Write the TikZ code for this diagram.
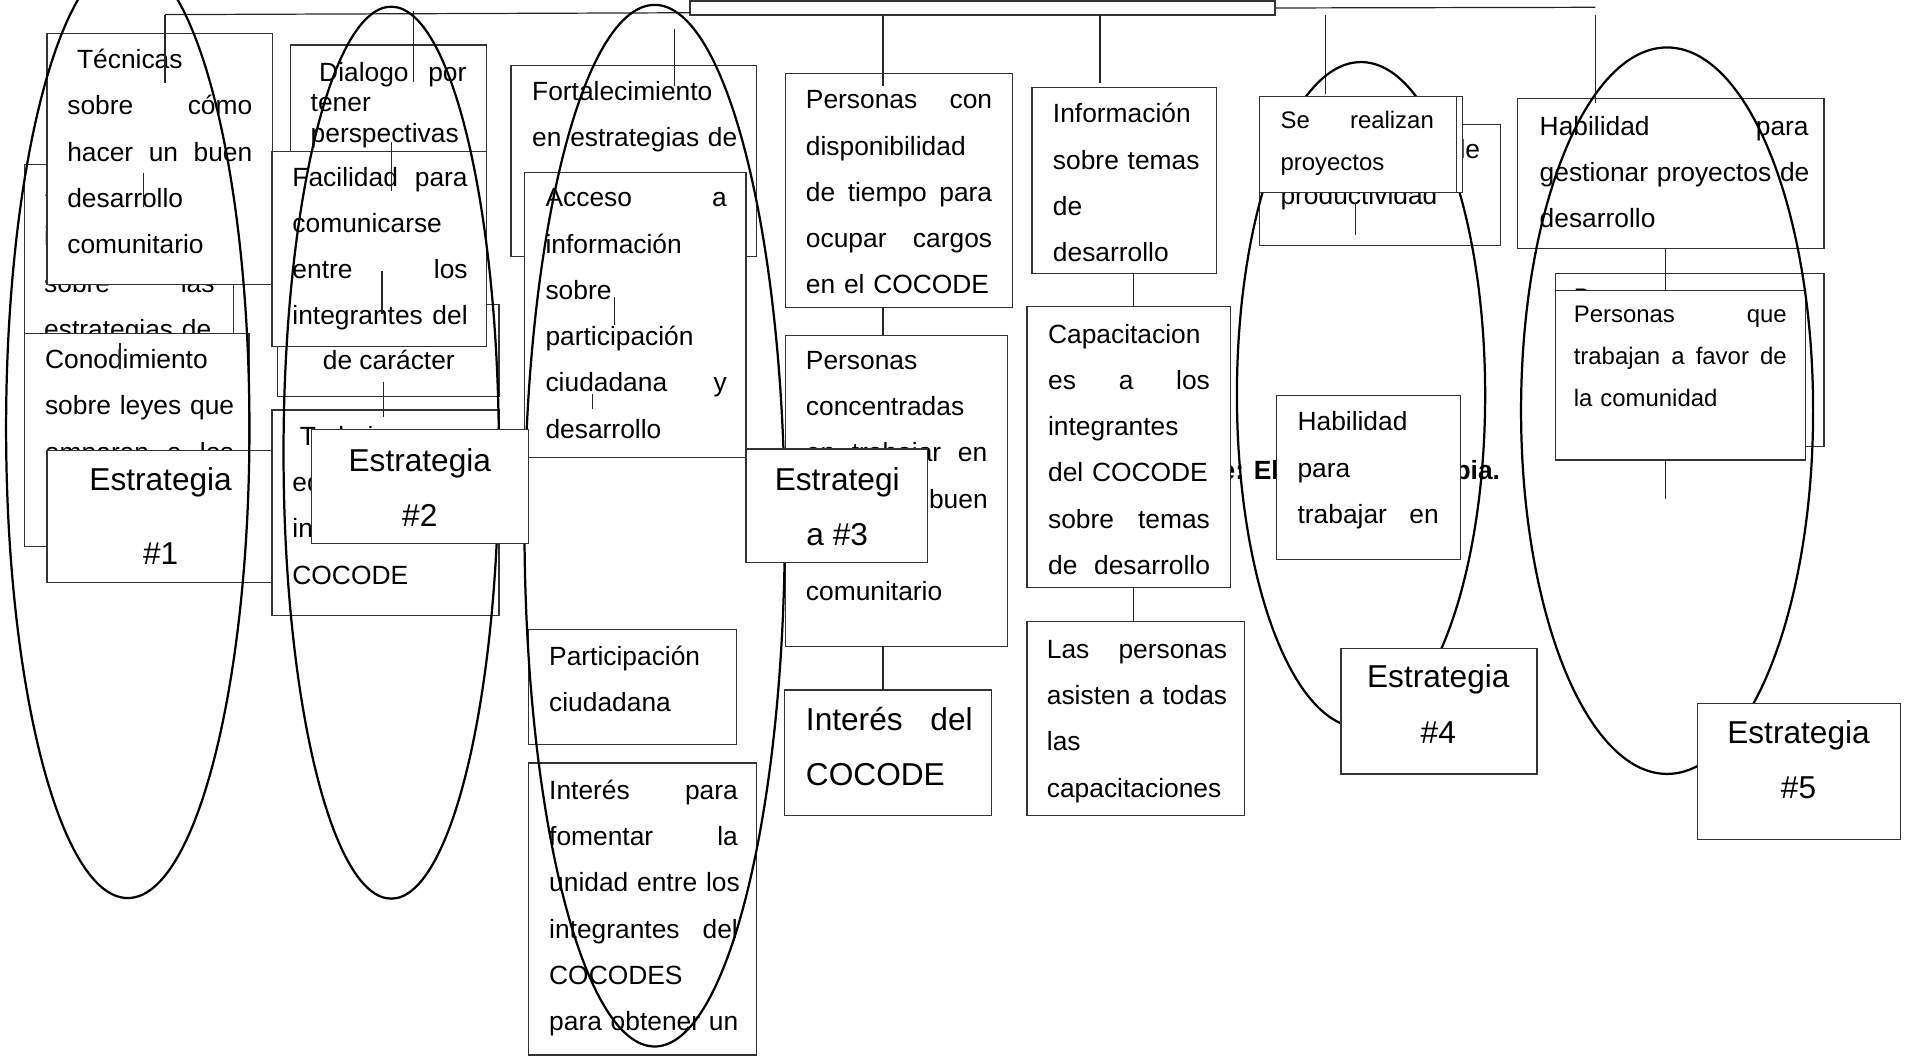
\documentclass[tikz,border=0pt]{standalone}
\usepackage{fontspec}
\setmainfont{Liberation Sans}
\usetikzlibrary{positioning}
\hyphenpenalty=10000
\exhyphenpenalty=10000
\hfuzz=20pt

% box from its corners, in picture units
\newcommand{\caja}[6][]{%
  \pgfmathsetmacro{\cajaw}{(#5-#3)*0.6}%
  \pgfmathsetmacro{\cajah}{(#6-#4)*0.6}%
  \node[caja, #1, minimum width=\cajaw pt, minimum height=\cajah pt] (#2) at (#3,#4) {};}
% text block: first baseline at (x,y), width in picture units
\newcommand{\texto}[6][]{%
  \pgfmathsetmacro{\textow}{#5*0.6}%
  \node[txt, #1, text width=\textow pt] (#2) at (#3,#4) {#6};}

\begin{document}
\begin{tikzpicture}[
    x=0.6pt, y=-0.6pt,
    caja/.style={draw=black!80, line width=0.6pt, fill=white,
      anchor=north west, inner sep=0pt, outer sep=0pt},
    txt/.style={anchor=base west, inner sep=0pt,
      font=\fontsize{13}{22.8}\selectfont},
    chico/.style={font=\fontsize{11.8}{20.5}\selectfont},
    grande/.style={font=\fontsize{15.6}{27}\selectfont},
    estr/.style={align=center, inner sep=0pt,
      font=\fontsize{15.6}{27.3}\selectfont},
    linea/.style={draw=black!85, line width=0.6pt},
    elipse/.style={draw=black, line width=1.1pt}
  ]
  \useasboundingbox (0,0) rectangle (1568,869);
  \clip (0,0) rectangle (1568,869);

  % Title bar
  \caja[line width=1pt]{titulo}{567}{0.8}{1048}{12.3}
  \coordinate (barL) at (135.6,12);
  \coordinate (barR) at (1311,6);
  \draw[linea] (barL) -- ([yshift=1.1pt]titulo.south west);
  \draw[linea] (titulo.east) -- (barR);

  % Column 1
  \caja{saber}{20}{135}{192}{449}
  \texto{saber-t}{36}{164}{140}{Saber~de~los\\ integrantes\\ sobre~\hfill las\\ estrategias~de\\ desarrollo}
  \caja{tecnicas}{38.7}{27.7}{223.7}{233.6}
  \texto{tecnicas-t}{55}{56.4}{152}{\hspace*{4.8pt}Técnicas\\ sobre~\hfill cómo\\ hacer~\hfill un~\hfill buen\\ desarrollo\\ comunitario}
  \caja{leyes}{20}{274}{204.6}{449}
  \texto{leyes-t}{36.7}{303}{155}{Conodimiento\\ sobre~leyes~que\\ amparan~\hfill a~\hfill los\\ COCODES}
  \caja{estr1}{38.7}{370}{226}{478.6}
  \node[estr, font=\fontsize{15.6}{36.6}\selectfont] (estr1-t) at (132,424.3) {Estrategia\\ \#1};

  % Column 2
  \caja{dialogo}{239}{37}{400}{200}
  \texto[font=\fontsize{13}{15}\selectfont]{dialogo-t}{255}{67}{128}{\hspace*{4.2pt}Dialogo~\hfill por\\ tener\\ perspectivas}
  \caja{caracter}{228}{250}{410}{326}
  \node[txt] (caracter-t) at (265,304) {de carácter};
  \caja{facilidad}{223.6}{124.7}{400}{285}
  \texto{facilidad-t}{240}{153}{144}{Facilidad~\hfill para\\ comunicarse\\ entre~\hfill los\\ integrantes~\hfill del}
  \caja{trabajo}{223.6}{337}{410}{506}
  \texto{trabajo-t}{240}{366}{154}{\hspace*{3.6pt}Trabajo~\hfill en\\ equipo~\hfill de~\hfill los\\ integrantes~\hfill del\\ COCODE}

  % Column 3
  \caja{fortalec}{420}{54}{622}{211}
  \texto{fortalec-t}{437}{82.6}{168}{Fortalecimiento\\ en~estrategias~de}
  \caja{acceso}{431}{141.7}{613}{376}
  \texto{acceso-t}{448}{170}{149}{Acceso~\hfill a\\ información\\ sobre\\ participación\\ ciudadana~\hfill y\\ desarrollo}
  \caja{particip}{434}{517}{605}{612}
  \texto{particip-t}{451}{546.6}{154}{Participación\\ ciudadana}
  \caja{unidad}{434}{627}{622}{867}
  \texto{unidad-t}{451}{657}{155}{Interés~\hfill para\\ fomentar~\hfill la\\ unidad~entre~los\\ integrantes~\hfill del\\ COCODES\\ para~obtener~un}

  % Column 4
  \caja{disp}{645.5}{60.5}{832}{252.5}
  \texto{disp-t}{662}{89.5}{153}{Personas~\hfill con\\ disponibilidad\\ de~\hfill tiempo~\hfill para\\ ocupar~\hfill cargos\\ en~el~COCODE}
  \caja{conc}{645.5}{275.5}{828}{531}
  \texto{conc-t}{662}{303.6}{149}{Personas\\ concentradas\\ en~\hfill trabajar~\hfill en\\ pro~\hfill de~\hfill un~\hfill buen\\ desarrollo\\ comunitario}
  \caja{interes}{645}{567}{815}{670}
  \texto[grande]{interes-t}{662}{600.5}{137}{Interés~\hfill del\\ COCODE}

  % Column 5
  \node[txt, anchor=base east, font=\bfseries\fontsize{13}{22.8}\selectfont] (fuente) at (1233,394) {Fuente: Elaboración propia.};
  \caja{info}{848}{72}{1000}{225}
  \texto{info-t}{865}{101}{122}{Información\\ sobre~temas\\ de\\ desarrollo}
  \caja{capac}{844}{252}{1011}{483}
  \texto{capac-t}{861}{282}{133}{Capacitacion\\ es~\hfill a~\hfill los\\ integrantes\\ del~COCODE\\ sobre~\hfill temas\\ de~\hfill desarrollo}
  \caja{asisten}{844}{511}{1023}{670}
  \texto{asisten-t}{860}{541}{148}{Las~\hfill personas\\ asisten~a~todas\\ las\\ capacitaciones}

  % Column 6 and 7
  \caja{product}{1035}{102}{1233}{202}
  \texto{product-t}{1052}{130}{164}{Proyectos~\hfill de\\ productividad}
  \caja{hab}{1049}{325}{1200}{460}
  \texto{hab-t}{1066}{354}{116}{Habilidad\\ para\\ trabajar~\hfill en}
  \caja{gestion}{1247}{81}{1499}{204}
  \texto{gestion-t}{1265}{111}{221}{Habilidad~\hfill para\\ gestionar~proyectos~de\\ desarrollo}
  \caja{favor0}{1278}{225}{1499}{367}
  \texto[chico, font=\fontsize{11.8}{20.7}\selectfont]{favor0-t}{1293}{251}{175}{Personas~\hfill que\\ trabajan~\hfill a~\hfill favor~\hfill de\\ la~comunidad}
  \caja{favor}{1278}{239}{1484}{378}
  \texto[chico, font=\fontsize{11.8}{20.7}\selectfont]{favor-t}{1293}{265}{175}{Personas~\hfill que\\ trabajan~\hfill a~\hfill favor~\hfill de\\ la~comunidad}

  % Connectors
  \coordinate (col4) at (725.6,0);
  \coordinate (col5) at (931.5,0);
  \coordinate (col6) at (1369,0);
  \draw[linea] (disp.south -| col4) -- (conc.north -| col4);
  \draw[linea] (conc.south -| col4) -- (interes.north -| col4);
  \draw[linea] (info.south -| col5) -- (capac.north -| col5);
  \draw[linea] (capac.south -| col5) -- (asisten.north -| col5);
  \draw[linea] (gestion.south -| col6) -- (favor.north -| col6);
  \foreach \n/\x/\ya/\yb in {1/135.6/12/68, 2/118/142/170, 3/98.6/282/303,
      4/339.6/9/67, 5/321.7/117/157, 6/314/223/258, 7/315/314/343,
      8/554/23.6/70.8, 9/505/244/267, 10/487/324/336, 11/725.6/12.3/70.8,
      14/904/12.6/68, 17/1089.6/12.6/77.4, 18/1114/167/193,
      19/1311/12.6/85, 21/1369/378/410} {
    \coordinate (c\n a) at (\x,\ya);
    \coordinate (c\n b) at (\x,\yb);
    \draw[linea] (c\n a) -- (c\n b);
  }

  % Ellipses
  \coordinate (el1) at (105,352);
  \coordinate (el2) at (321.5,372);
  \coordinate (el3) at (538,432);
  \coordinate (el4) at (1118.5,324.5);
  \coordinate (el5) at (1370,337.5);
  \draw[elipse] (el1) ellipse [x radius=100, y radius=386];
  \draw[elipse] (el2) ellipse [x radius=88.5, y radius=366.5];
  \draw[elipse] (el3) ellipse [x radius=107, y radius=428];
  \draw[elipse] (el4) ellipse [x radius=102, y radius=273.5];
  \draw[elipse] (el5) ellipse [x radius=120, y radius=298.5];

  % Boxes on top of the ellipses
  \caja{realizan0}{1035}{79}{1202}{158}
  \caja{realizan}{1035}{79}{1197}{158}
  \texto[chico, font=\fontsize{11.8}{20.4}\selectfont]{realizan-t}{1052}{106}{126}{Se~\hfill realizan\\ proyectos}
  \caja{estr2}{256}{353}{434}{446.5}
  \node[estr] (estr2-t) at (345,400.7) {Estrategia\\ \#2};
  \caja{estr3}{613}{369}{762}{462}
  \node[estr] (estr3-t) at (688,416.3) {Estrategi\\ a \#3};
  \caja{estr4}{1102}{533}{1263}{636}
  \node[estr] (estr4-t) at (1182,578.6) {Estrategia\\ \#4};
  \caja{estr5}{1395}{578}{1562}{690}
  \node[estr] (estr5-t) at (1478,624.5) {Estrategia\\ \#5};

\end{tikzpicture}
\end{document}
